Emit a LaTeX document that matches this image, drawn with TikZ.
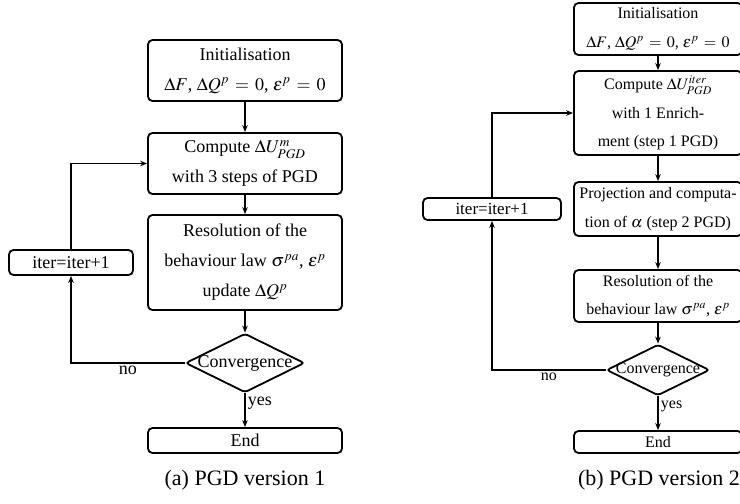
\documentclass[tikz,border=0pt]{standalone}
\usepackage{mathptmx}
\usepackage{fontspec}
\setmainfont{Liberation Serif}
\usetikzlibrary{shapes.geometric,arrows.meta}
\begin{document}
\begin{tikzpicture}[x=1pt,y=-1pt,
  lw/.style={line width=1.8pt},
  box/.style={draw,lw,rounded corners=4.5pt,align=center,inner sep=0pt},
  boxL/.style={box,minimum width=194pt,font=\fontsize{18}{30}\selectfont},
  boxR/.style={box,minimum width=168pt,font=\fontsize{16}{28.5}\selectfont},
  decision/.style={draw,lw,diamond,rounded corners=3pt,inner sep=0pt},
  arr/.style={lw,-{Stealth[length=7pt,width=5.5pt]}},
  capt/.style={font=\fontsize{22}{26}\selectfont},
  txtL/.style={font=\fontsize{18}{22}\selectfont,inner sep=2pt},
  txtR/.style={font=\fontsize{16}{20}\selectfont,inner sep=2pt}
]
\useasboundingbox (0,0) rectangle (740,504);

% ---------- (a) ----------
\node[boxL,minimum height=61pt] (initA) at (245,70.5) {Initialisation\\$\Delta F$, $\Delta Q^p \,=\, 0$, $\varepsilon^p \,=\, 0$};
\node[boxL,minimum height=61pt] (compA) at (245,163.5) {Compute $\Delta U^m_{PGD}$\\with 3 steps of PGD};
\node[boxL,minimum height=95pt] (resA) at (245,262.5) {Resolution of the\\behaviour law $\sigma^{pa}$, $\varepsilon^p$\\update $\Delta Q^p$};
\node[decision,minimum width=119pt,minimum height=59pt] (convA) at (245,363) {};
\node[txtL] (convAt) at (convA.center) {Convergence};
\node[boxL,minimum height=25pt] (endA) at (245,440.5) {End};
\node[box,minimum width=124pt,minimum height=25pt,font=\fontsize{18}{22}\selectfont] (iterA) at (71,262.5) {iter=iter+1};
\node[capt] (capA) at (245,480) {(a) PGD version 1};

\draw[arr] (initA) -- (compA);
\draw[arr] (compA) -- (resA);
\draw[arr] (resA) -- (convA);
\draw[arr] (convA) -- node[txtL,pos=0.3,right] (yesA) {yes} (endA);
\draw[arr] (convA.west) -| node[txtL,pos=0.25,below] (noA) {no} (iterA.south);
\draw[arr] (iterA.north) |- (compA.west);

% ---------- (b) ----------
\node[boxR,minimum height=52pt] (initB) at (658,29) {Initialisation\\$\Delta F$, $\Delta Q^p \,=\, 0$, $\varepsilon^p \,=\, 0$};
\node[boxR,minimum height=84pt] (compB) at (658,113) {Compute $\Delta U^{iter}_{PGD}$\\with 1 Enrich-\\ment (step 1 PGD)};
\node[boxR,minimum height=54pt] (projB) at (658,209) {Projection and computa-\\tion of $\alpha$ (step 2 PGD)};
\node[boxR,minimum height=52pt] (resB) at (658,296) {Resolution of the\\behaviour law $\sigma^{pa}$, $\varepsilon^p$};
\node[decision,minimum width=103pt,minimum height=51pt] (convB) at (658,370) {};
\node[txtR] (convBt) at (convB.center) {Convergence};
\node[boxR,minimum height=22pt] (endB) at (658,442) {End};
\node[box,minimum width=138pt,minimum height=22pt,font=\fontsize{17}{20}\selectfont] (iterB) at (492,209) {iter=iter+1};
\node[capt] (capB) at (659,480) {(b) PGD version 2};

\draw[arr] (initB) -- (compB);
\draw[arr] (compB) -- (projB);
\draw[arr] (projB) -- (resB);
\draw[arr] (resB) -- (convB);
\draw[arr] (convB) -- node[txtR,pos=0.3,right] (yesB) {yes} (endB);
\draw[arr] (convB.west) -| node[txtR,pos=0.25,below] (noB) {no} (iterB.south);
\draw[arr] (iterB.north) |- (compB.west);
\end{tikzpicture}
\end{document}
